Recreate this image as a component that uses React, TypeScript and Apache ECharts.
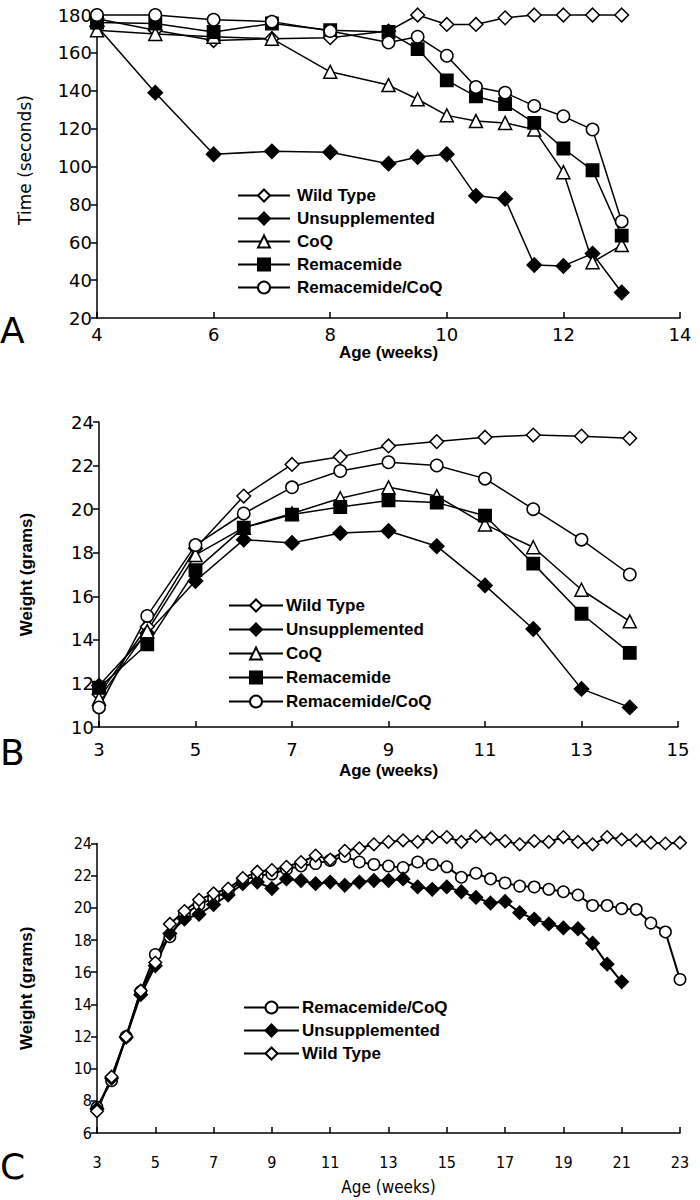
import React, { useEffect, useRef } from "react";
import * as echarts from "echarts";

// ---------- Panel A: Time (seconds) vs Age (weeks) ----------
const weeksA = [4, 5, 6, 7, 8, 9, 9.5, 10, 10.5, 11, 11.5, 12, 12.5, 13];
const timeWild = [178, 172, 166.5, 167.5, 168, 171.5, 180, 175, 175, 178.5, 180, 180, 180, 180];
const timeUnsup = [174, 139, 106.5, 108, 107.5, 101.5, 105, 106.5, 84.5, 83, 48, 47.5, 54, 33.5];
const timeCoQ = [172, 170, 168.5, 167.5, 150, 143, 135.5, 127, 124, 123, 119.5, 97, 49.5, 58.5];
const timeRem = [176, 175.5, 171, 175.5, 172, 171, 162, 145.5, 137, 133, 123, 109.5, 98, 63.5];
const timeRemCoQ = [180, 180, 177.5, 176.5, 171.5, 165.5, 168.5, 158.5, 142, 139, 132, 126.5, 119.5, 71];

// ---------- Panel B: Weight (grams) vs Age (weeks) ----------
const weeksB = [3, 4, 5, 6, 7, 8, 9, 10, 11, 12, 13, 14];
const wtWildB = [11.5, 14.6, 18.2, 20.6, 22.05, 22.4, 22.9, 23.1, 23.3, 23.4, 23.35, 23.25];
const wtUnsupB = [11.9, 14.3, 16.7, 18.6, 18.45, 18.9, 19.0, 18.3, 16.5, 14.5, 11.75, 10.9];
const wtCoQB = [11.3, 14.4, 17.9, 19.15, 19.8, 20.5, 21.0, 20.6, 19.3, 18.25, 16.3, 14.85];
const wtRemB = [11.8, 13.8, 17.2, 19.15, 19.75, 20.1, 20.4, 20.3, 19.7, 17.5, 15.2, 13.4];
const wtRemCoQB = [10.9, 15.1, 18.35, 19.8, 21.0, 21.75, 22.15, 22.0, 21.4, 20.0, 18.6, 17.0];

// ---------- Panel C: Weight (grams) vs Age (weeks), long term ----------
const weeksC = [3, 3.5, 4, 4.5, 5, 5.5, 6, 6.5, 7, 7.5, 8, 8.5, 9, 9.5, 10, 10.5, 11, 11.5, 12, 12.5, 13, 13.5, 14, 14.5, 15, 15.5, 16, 16.5, 17, 17.5, 18, 18.5, 19, 19.5, 20, 20.5, 21, 21.5, 22, 22.5, 23];
const wtRemCoQC = [7.6, 9.25, 12.0, 14.8, 17.1, 18.2, 19.6, 20.2, 20.6, 21.0, 21.7, 22.0, 22.1, 22.4, 22.6, 22.75, 22.95, 23.2, 22.85, 22.7, 22.6, 22.5, 22.85, 22.7, 22.55, 21.9, 22.15, 21.8, 21.55, 21.35, 21.3, 21.15, 21.0, 20.8, 20.15, 20.15, 19.95, 19.9, 19.05, 18.5, 15.55];
const wtUnsupC = [7.5, 9.4, 11.95, 14.6, 16.4, 18.4, 19.3, 19.6, 20.2, 20.8, 21.5, 21.6, 21.2, 21.8, 21.7, 21.5, 21.6, 21.4, 21.6, 21.7, 21.7, 21.8, 21.3, 21.15, 21.3, 21.0, 20.65, 20.3, 20.4, 19.7, 19.3, 19.0, 18.75, 18.7, 17.8, 16.5, 15.4];
const wtWildC = [7.35, 9.5, 12.0, 14.85, 16.6, 19.0, 19.8, 20.5, 20.9, 21.2, 21.85, 22.25, 22.35, 22.55, 22.85, 23.25, 23.0, 23.55, 23.7, 23.95, 24.1, 24.2, 24.1, 24.4, 24.4, 24.1, 24.45, 24.3, 24.15, 23.95, 24.15, 24.1, 24.4, 24.1, 23.95, 24.4, 24.25, 24.2, 24.05, 24.0, 24.05];

const legendA = ["Wild Type", "Unsupplemented", "CoQ", "Remacemide", "Remacemide/CoQ"];
const legendB = ["Wild Type", "Unsupplemented", "CoQ", "Remacemide", "Remacemide/CoQ"];
const legendC = ["Remacemide/CoQ", "Unsupplemented", "Wild Type"];

const markerStyles: Record<string, { symbol: string; filled: boolean; scale: number }> = {
  "Wild Type": { symbol: "diamond", filled: false, scale: 1.05 },
  Unsupplemented: { symbol: "diamond", filled: true, scale: 1.1 },
  CoQ: { symbol: "triangle", filled: false, scale: 1.0 },
  Remacemide: { symbol: "rect", filled: true, scale: 0.95 },
  "Remacemide/CoQ": { symbol: "circle", filled: false, scale: 0.95 },
};

const TICK_FONT = '"DejaVu Sans", sans-serif';
const COND_FONT = '"DejaVu Sans Condensed", "DejaVu Sans", sans-serif';
const BOLD_FONT = '"Liberation Sans", Arial, sans-serif';

function makeSeries(name: string, xs: number[], ys: number[], axisIndex: number, size: number, lw: number) {
  const st = markerStyles[name];
  return {
    type: "line",
    name,
    xAxisIndex: axisIndex,
    yAxisIndex: axisIndex,
    data: ys.map((y, i) => [xs[i], y]),
    symbol: st.symbol,
    symbolSize: size * st.scale,
    showAllSymbol: true,
    clip: false,
    lineStyle: { color: "#000", width: lw },
    itemStyle: { color: st.filled ? "#000" : "#fff", borderColor: "#000", borderWidth: 1.5 },
    emphasis: { disabled: true },
    silent: true,
  };
}

function xAxisOf(grid: number, min: number, max: number, interval: number, fontSize: number, fontFamily: string, nameBold: boolean, nameGap: number, labelMargin: number) {
  return {
    type: "value",
    gridIndex: grid,
    min,
    max,
    interval,
    name: "Age (weeks)",
    nameLocation: "middle",
    nameGap,
    nameTextStyle: {
      color: "#000",
      fontSize: 17,
      fontWeight: nameBold ? "bold" : "normal",
      fontFamily: nameBold ? BOLD_FONT : fontFamily,
    },
    axisLine: { show: true, onZero: false, lineStyle: { color: "#000", width: 1.5 } },
    axisTick: { show: true, inside: true, length: 6, lineStyle: { color: "#000", width: 1.5 } },
    axisLabel: { color: "#000", fontSize, fontFamily, margin: labelMargin },
    splitLine: { show: false },
  };
}

function yAxisOf(grid: number, min: number, max: number, interval: number, name: string, fontSize: number, fontFamily: string, nameGap: number, nameWeight: string, nameFont: string, padding: number[]) {
  return {
    type: "value",
    gridIndex: grid,
    min,
    max,
    interval,
    name,
    nameLocation: "middle",
    nameRotate: 90,
    nameGap,
    nameTextStyle: { color: "#000", fontSize: 17, fontWeight: nameWeight, fontFamily: nameFont, padding },
    axisLine: { show: true, onZero: false, lineStyle: { color: "#000", width: 1.5 } },
    axisTick: { show: true, inside: false, length: 6, lineStyle: { color: "#000", width: 1.5 } },
    axisLabel: { color: "#000", fontSize, fontFamily, margin: 5 },
    splitLine: { show: false },
  };
}

function legendOf(data: string[], left: number, top: number, itemWidth: number, textPad: number, gap: number) {
  return {
    data,
    orient: "vertical",
    left,
    top,
    padding: 0,
    itemWidth,
    itemHeight: 15,
    itemGap: gap,
    selectedMode: false,
    textStyle: { color: "#000", fontSize: 17, lineHeight: 17, fontWeight: "bold", fontFamily: BOLD_FONT, padding: [0, 0, 0, textPad] },
  };
}

const letterStyle = { fontSize: 36, fontWeight: "normal", color: "#000", fontFamily: TICK_FONT };

export default function App() {
  const ref = useRef<HTMLDivElement>(null);

  useEffect(() => {
    if (!ref.current) return;
    const chart = echarts.init(ref.current, undefined, { renderer: "svg" });
    const option = {
      animation: false,
      backgroundColor: "#fff",
      title: [
        { text: "A", left: 0, top: 312, padding: 0, textStyle: letterStyle },
        { text: "B", left: 0, top: 734, padding: 0, textStyle: letterStyle },
        { text: "C", left: 0, top: 1148, padding: 0, textStyle: letterStyle },
      ],
      legend: [
        legendOf(legendA, 237, 187, 52, 2, 6),
        legendOf(legendB, 228, 597, 54, -2, 7),
        legendOf(legendC, 243, 999, 55, -2, 6),
      ],
      grid: [
        { left: 97, top: 15, width: 583, height: 303, containLabel: false },
        { left: 99, top: 422, width: 579, height: 305, containLabel: false },
        { left: 97, top: 843.5, width: 583, height: 289.5, containLabel: false },
      ],
      xAxis: [
        xAxisOf(0, 4, 14, 2, 18, TICK_FONT, true, 19, 7),
        xAxisOf(1, 3, 15, 2, 18, TICK_FONT, true, 35, 13),
        xAxisOf(2, 3, 23, 2, 16, COND_FONT, false, 45, 21),
      ],
      yAxis: [
        yAxisOf(0, 20, 180, 20, "Time (seconds)", 18, TICK_FONT, 64, "normal", TICK_FONT, [0, 0, 0, 13]),
        yAxisOf(1, 10, 24, 2, "Weight (grams)", 18, TICK_FONT, 64, "bold", BOLD_FONT, [0, 0, 0, 0]),
        yAxisOf(2, 6, 24, 2, "Weight (grams)", 16, COND_FONT, 62, "bold", BOLD_FONT, [0, 0, 0, 0]),
      ],
      series: [
        makeSeries("Wild Type", weeksA, timeWild, 0, 13, 1.5),
        makeSeries("Unsupplemented", weeksA, timeUnsup, 0, 13, 1.5),
        makeSeries("CoQ", weeksA, timeCoQ, 0, 13, 1.5),
        makeSeries("Remacemide", weeksA, timeRem, 0, 13, 1.5),
        makeSeries("Remacemide/CoQ", weeksA, timeRemCoQ, 0, 13, 1.5),

        makeSeries("Wild Type", weeksB, wtWildB, 1, 13, 1.5),
        makeSeries("Unsupplemented", weeksB, wtUnsupB, 1, 13, 1.5),
        makeSeries("CoQ", weeksB, wtCoQB, 1, 13, 1.5),
        makeSeries("Remacemide", weeksB, wtRemB, 1, 13, 1.5),
        makeSeries("Remacemide/CoQ", weeksB, wtRemCoQB, 1, 13, 1.5),

        makeSeries("Remacemide/CoQ", weeksC.slice(0, wtRemCoQC.length), wtRemCoQC, 2, 12, 2),
        makeSeries("Unsupplemented", weeksC.slice(0, wtUnsupC.length), wtUnsupC, 2, 12, 2),
        makeSeries("Wild Type", weeksC.slice(0, wtWildC.length), wtWildC, 2, 12, 2),
      ],
    };
    chart.setOption(option as any);
    return () => chart.dispose();
  }, []);

  return (
    <div
      ref={ref}
      style={{ position: "absolute", left: 0, top: 0, width: 700, height: 1200, background: "#fff" }}
    />
  );
}
